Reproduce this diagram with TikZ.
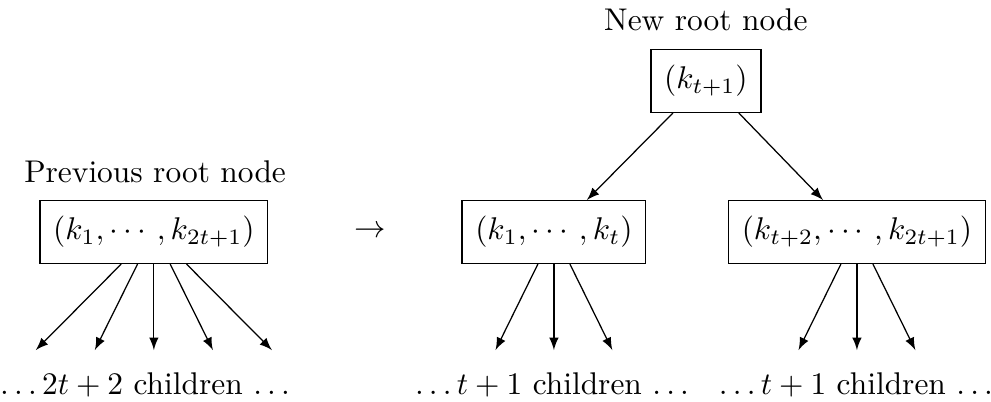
\documentclass[tikz,border=0pt]{standalone}
\begin{document}
\begin{tikzpicture}[x=1pt, y=1pt,
    keybox/.style={draw, inner xsep=4.2pt, inner ysep=5pt},
    child/.style={-latex}]
  \useasboundingbox (0, 0) rectangle (315.6, -128);
  \node (oldlabel) at (49.4, -54.8) {Previous root node};
  \node[keybox] (old) at (49.0, -73.9) {$(k_1, \cdots\,, k_{2t+1})$};
  \node (split) at (117.8, -73.9) {$\rightarrow$};
  \node (newlabel) at (224.8, -6.4) {New root node};
  \node[keybox] (root) at (224.8, -25.8) {$(k_{t+1})$};
  \node[keybox] (lower) at (176.4, -73.9) {$(k_1, \cdots\,, k_t)$};
  \node[keybox] (upper) at (272.9, -73.9) {$(k_{t+2}, \cdots\,, k_{2t+1})$};
  \draw[child] ([xshift=-10.5]root.south) -- ([xshift=10.5]lower.north);
  \draw[child] ([xshift=10.5]root.south) -- ([xshift=-10.8]upper.north);
  \foreach \i in {1,...,5} {
    \coordinate (oc\i) at (49.0+\i*18.8-3*18.8, -111.5);
    \draw[child] ([xshift=\i*5.2-3*5.2]old.south) -- (oc\i);
  }
  \foreach \i in {1,2,3} {
    \coordinate (lc\i) at (176.4+\i*18.6-2*18.6, -111.5);
    \coordinate (uc\i) at (272.9+\i*18.6-2*18.6, -111.5);
    \draw[child] ([xshift=\i*5.1-2*5.1]lower.south) -- (lc\i);
    \draw[child] ([xshift=\i*5.1-2*5.1]upper.south) -- (uc\i);
  }
  \node (oldkids) at (46.2, -122.6) {$\ldots 2t+2$ children $\ldots$};
  \node (lowerkids) at (175.8, -122.6) {$\ldots t+1$ children $\ldots$};
  \node (upperkids) at (272.6, -122.6) {$\ldots t+1$ children $\ldots$};
\end{tikzpicture}
\end{document}
